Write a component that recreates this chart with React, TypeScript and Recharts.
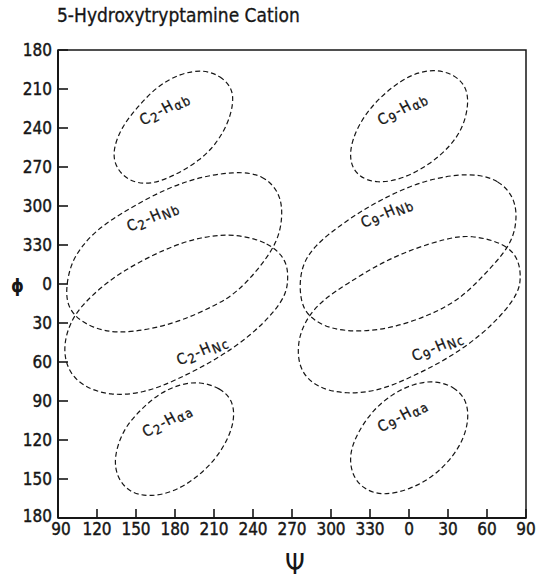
import { ScatterChart, Scatter, XAxis, YAxis, ReferenceArea } from 'recharts';

// psi runs 90..450 (values past 360 wrap to 0..90), phi runs 180..540 (wraps past 360)
const psiTicks = [90, 120, 150, 180, 210, 240, 270, 300, 330, 360, 390, 420, 450];
const phiTicks = [180, 210, 240, 270, 300, 330, 360, 390, 420, 450, 480, 510, 540];

type Pt = [number, number]; // [psi, phi]

const c2Hab: Pt[] = [
  [202, 195], [215, 200], [224, 209], [225, 221], [221, 236], [212, 252], [199, 265], [181, 276],
  [161, 284], [144, 281], [134, 270], [132, 257], [139, 239], [151, 224], [166, 208], [184, 198],
];
const c9Hab: Pt[] = [
  [381, 195], [395, 199], [404, 208], [406, 221], [402, 239], [392, 254], [376, 268], [356, 279],
  [335, 283], [320, 277], [314, 265], [316, 249], [325, 231], [338, 216], [353, 204], [367, 197],
];
const c2HNb: Pt[] = [
  [227, 273], [248, 276], [261, 290], [263, 308], [259, 328], [244, 349], [227, 367], [212, 376],
  [186, 388], [161, 395], [135, 398], [117, 394], [102, 385], [95, 371], [99, 345], [109, 330],
  [122, 316], [156, 295], [191, 279],
];
const c9HNb: Pt[] = [
  [407, 274], [430, 280], [442, 295], [443, 313], [438, 331], [418, 353], [399, 372], [376, 384],
  [350, 393], [325, 397], [299, 395], [282, 385], [276, 372], [276, 349], [286, 331], [312, 311],
  [338, 295], [371, 280],
];
const c2HNc: Pt[] = [
  [225, 321], [253, 328], [266, 342], [267, 355], [266, 366], [258, 380], [238, 400], [212, 418],
  [181, 434], [156, 444], [130, 446], [109, 439], [97, 426], [94, 408], [99, 390], [109, 375],
  [135, 352], [174, 332], [199, 324],
];
const c9HNc: Pt[] = [
  [407, 322], [435, 329], [445, 342], [446, 357], [444, 366], [435, 380], [415, 400], [389, 418],
  [363, 431], [338, 442], [312, 445], [289, 440], [275, 426], [274, 403], [282, 385], [294, 372],
  [312, 360], [338, 344], [363, 333], [389, 325],
];
const c2Haa: Pt[] = [
  [199, 435], [215, 440], [224, 449], [226, 462], [222, 477], [212, 494], [197, 509], [179, 520],
  [160, 524], [144, 520], [135, 508], [133, 493], [140, 472], [153, 457], [168, 444], [184, 437],
];
const c9Haa: Pt[] = [
  [379, 434], [395, 439], [404, 449], [406, 462], [403, 477], [394, 493], [379, 508], [361, 518],
  [340, 523], [325, 518], [316, 507], [314, 491], [320, 475], [332, 457], [348, 444], [363, 437],
];

const contours = [c2Hab, c9Hab, c2HNb, c9HNb, c2HNc, c9HNc, c2Haa, c9Haa];

const labelPsi = [172, 355, 163, 343, 201, 382, 174, 355];
const labelPhi = [225, 225, 308, 305, 411, 408, 465, 461];
const labelAtom = ['2', '9', '2', '9', '2', '9', '2', '9'];
const labelSub = ['αb', 'αb', 'Nb', 'Nb', 'Nc', 'Nc', 'αa', 'αa'];

const INK = '#161616';
const FONT = "'DejaVu Sans Condensed', 'DejaVu Sans', sans-serif";

const labels = labelPsi.map((psi, i) => ({
  psi,
  phi: labelPhi[i],
  atom: labelAtom[i],
  sub: labelSub[i],
}));

const wrap = (v: number) => String(v % 360);

function PsiTick({ x, y, payload, index }: any) {
  // first label nudged right so it clears the bottom phi label
  const dx = index === 0 ? 3 : 0;
  return (
    <g>
      <line x1={x} y1={y} x2={x} y2={y - 9} stroke={INK} strokeWidth={1.6} />
      <text
        x={x + dx}
        y={y + 17}
        textAnchor="middle"
        fontSize={17}
        fontFamily={FONT}
        fill={INK}
        stroke={INK}
        strokeWidth={0.4}
      >
        {wrap(payload.value)}
      </text>
    </g>
  );
}

function PhiTick({ x, y, payload, index }: any) {
  const dy = index === phiTicks.length - 1 ? -2 : 0;
  return (
    <g>
      <line x1={x} y1={y} x2={x + 10} y2={y} stroke={INK} strokeWidth={1.6} />
      <text
        x={x - 6}
        y={y + 6 + dy}
        textAnchor="end"
        fontSize={17}
        fontFamily={FONT}
        fill={INK}
        stroke={INK}
        strokeWidth={0.4}
      >
        {wrap(payload.value)}
      </text>
    </g>
  );
}

function ContourLabel(props: any) {
  const { cx, cy, payload } = props;
  const angle = payload.sub.startsWith('N') ? -23 : -28;
  return (
    <text
      x={cx}
      y={cy}
      textAnchor="middle"
      dominantBaseline="central"
      transform={`rotate(${angle} ${cx} ${cy})`}
      fontSize={15}
      fontFamily={FONT}
      letterSpacing={1.2}
      fill={INK}
      stroke={INK}
      strokeWidth={0.3}
    >
      C
      <tspan fontSize={13} dy={3}>{payload.atom}</tspan>
      <tspan dy={-3}>-H</tspan>
      <tspan fontSize={13} dy={3}>{payload.sub}</tspan>
    </text>
  );
}

const noDot = () => <g />;

export default function App() {
  return (
    <div style={{ position: 'absolute', left: 0, top: 0, width: 541, height: 582, background: '#fff' }}>
      <div
        style={{
          position: 'absolute',
          left: 57,
          top: 4,
          fontSize: 19,
          fontFamily: FONT,
          color: INK,
          whiteSpace: 'nowrap',
          WebkitTextStroke: '0.3px #161616',
        }}
      >
        5-Hydroxytryptamine Cation
      </div>
      <ScatterChart width={541} height={582} margin={{ top: 50, right: 15, bottom: 0, left: 0 }}>
        <XAxis
          type="number"
          dataKey="psi"
          domain={[90, 450]}
          ticks={psiTicks}
          interval={0}
          allowDataOverflow
          height={64}
          tickSize={0}
          tickMargin={0}
          tickLine={false}
          tick={<PsiTick />}
          axisLine={{ stroke: INK, strokeWidth: 2 }}
          label={({ viewBox }: any) => (
            <text
              x={viewBox.x + viewBox.width / 2 + 3}
              y={viewBox.y + 56}
              textAnchor="middle"
              fontSize={28}
              fontFamily={FONT}
              fill={INK}
            >
              Ψ
            </text>
          )}
        />
        <YAxis
          type="number"
          dataKey="phi"
          domain={[180, 540]}
          reversed
          ticks={phiTicks}
          interval={0}
          allowDataOverflow
          width={58}
          tickSize={0}
          tickMargin={0}
          tickLine={false}
          tick={<PhiTick />}
          axisLine={{ stroke: INK, strokeWidth: 2 }}
          label={({ viewBox }: any) => (
            <text
              x={viewBox.x + 17.5}
              y={viewBox.y + viewBox.height / 2 + 8}
              textAnchor="middle"
              fontSize={18}
              fontWeight="bold"
              fontFamily={FONT}
              fill={INK}
            >
              ϕ
            </text>
          )}
        />
        <ReferenceArea x1={90} x2={450} y1={180} y2={540} fill="none" stroke={INK} strokeWidth={1.5} />
        {contours.map((pts, i) => (
          <Scatter
            key={i}
            data={pts.map(([psi, phi]) => ({ psi, phi }))}
            line={{ stroke: INK, strokeWidth: 1.2, strokeDasharray: '5 3' }}
            lineType="joint"
            lineJointType="basisClosed"
            shape={noDot}
            isAnimationActive={false}
          />
        ))}
        <Scatter data={labels} shape={(p: any) => <ContourLabel {...p} />} isAnimationActive={false} />
      </ScatterChart>
    </div>
  );
}
